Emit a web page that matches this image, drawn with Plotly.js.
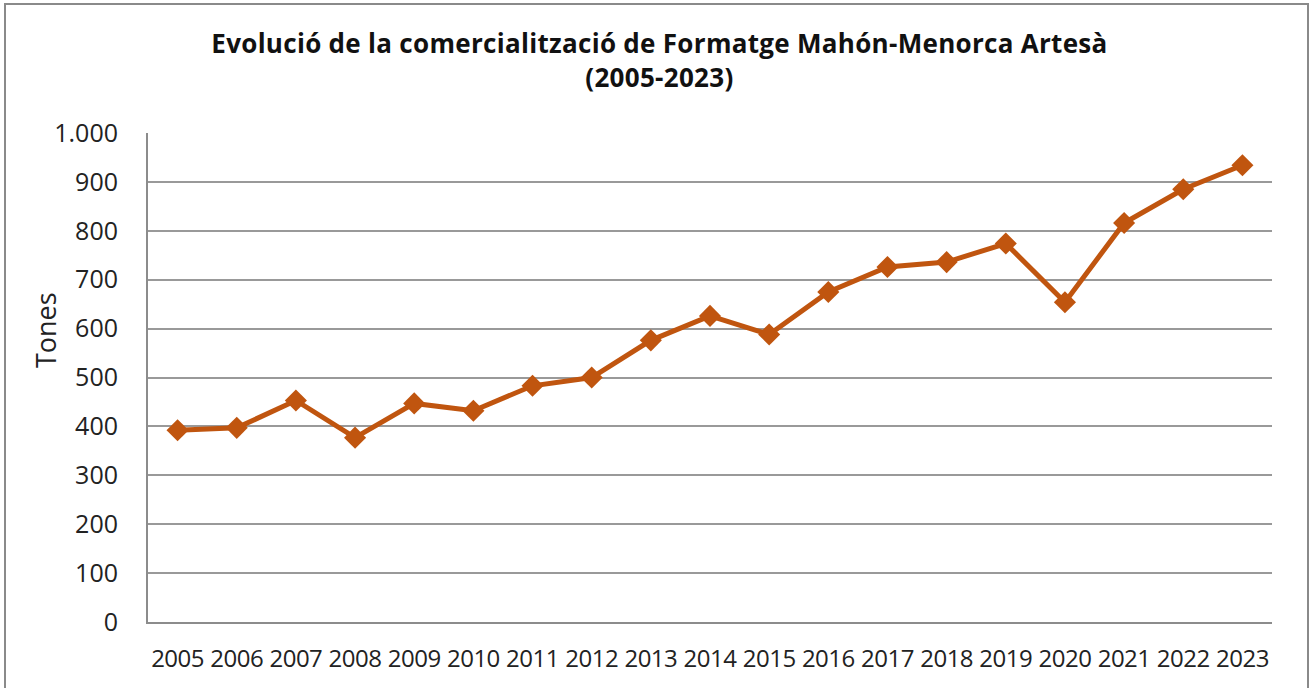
<!DOCTYPE html>
<html>
<head>
<meta charset="utf-8">
<script src="https://cdn.plot.ly/plotly-3.0.1.min.js"></script>
<style>
  html, body { margin: 0; padding: 0; background: #fff; overflow: hidden; }
  #wrap { position: relative; width: 1311px; height: 688px; }
  #chart { position: absolute; left: 0; top: 0; width: 1311px; height: 688px; }
  #frame { position: absolute; left: 4px; top: 3px; width: 1301px; height: 720px; border: 2px solid #8a8a8a; pointer-events: none; }
  #chart .xtick text { letter-spacing: -0.5px; }
  #chart .gtitle { letter-spacing: 0.3px; }
</style>
</head>
<body>
<div id="wrap">
  <div id="chart"></div>
  <div id="frame"></div>
</div>
<script>
const years = ['2005','2006','2007','2008','2009','2010','2011','2012','2013','2014','2015','2016','2017','2018','2019','2020','2021','2022','2023'];
const tones = [392, 397, 453, 377, 447, 432, 483, 500, 576, 626, 588, 675, 726, 736, 774, 654, 816, 885, 934];
const yTicks = [0, 100, 200, 300, 400, 500, 600, 700, 800, 900, 1000];
const titleLines = ['Evolució de la comercialització de Formatge Mahón-Menorca Artesà', '(2005-2023)'];
const yTitle = 'Tones';

const FONT = 'Open Sans, Noto Sans, sans-serif';

const trace = {
  type: 'scatter',
  mode: 'lines+markers',
  x: years,
  y: tones,
  line: { color: '#C0550F', width: 5 },
  marker: { symbol: 'diamond', size: 17, color: '#C0550F' },
  hoverinfo: 'x+y'
};

const layout = {
  width: 1311,
  height: 688,
  margin: { l: 148, r: 39, t: 133, b: 66 },
  paper_bgcolor: '#ffffff',
  plot_bgcolor: '#ffffff',
  separators: ',.',
  showlegend: false,
  font: { family: FONT, color: '#222', size: 25 },
  title: {
    text: titleLines.map(s => '<b>' + s + '</b>').join('<br>'),
    font: { family: FONT, size: 26, color: '#111' },
    x: 0.503, xref: 'container', xanchor: 'center',
    y: 0.923, yref: 'container', yanchor: 'top'
  },
  xaxis: {
    type: 'category',
    range: [-0.5, 18.5],
    showgrid: false,
    showline: true,
    linecolor: '#8c8c8c',
    linewidth: 2,
    ticks: '',
    tickangle: 0,
    ticklabelstandoff: 14,
    tickfont: { family: FONT, size: 24, color: '#222' },
    zeroline: false,
    fixedrange: true
  },
  yaxis: {
    range: [0, 1000],
    tickvals: yTicks,
    tickformat: ',d',
    showgrid: true,
    gridcolor: '#999999',
    gridwidth: 2,
    showline: true,
    linecolor: '#8c8c8c',
    linewidth: 2,
    zeroline: false,
    ticks: '',
    ticklabelstandoff: 23,
    tickfont: { family: FONT, size: 25, color: '#222' },
    fixedrange: true
  },
  annotations: [{
    text: yTitle,
    xref: 'paper', yref: 'paper',
    x: -0.0916, y: 0.597,
    xanchor: 'center', yanchor: 'middle',
    textangle: -90,
    showarrow: false,
    font: { family: FONT, size: 27, color: '#222' }
  }]
};

Plotly.newPlot('chart', [trace], layout, { displayModeBar: false });
</script>
</body>
</html>
